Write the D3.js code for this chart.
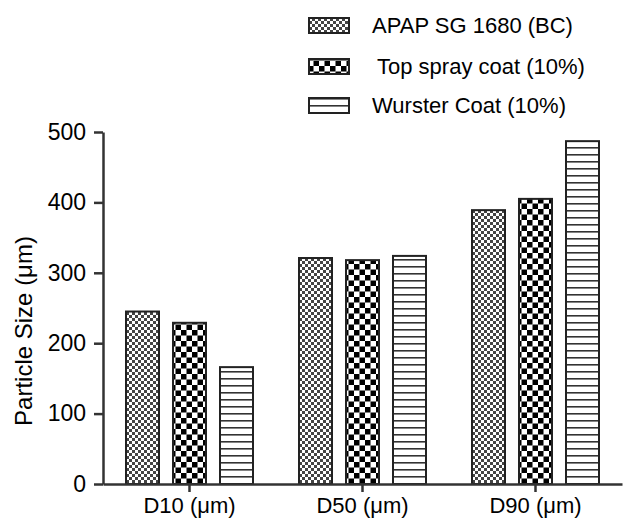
<!DOCTYPE html>
<html>
<head>
<meta charset="utf-8">
<script src="https://cdn.jsdelivr.net/npm/d3@7"></script>
<style>
body { margin: 0; background: #fff; }
text { font-family: "Liberation Sans", Arial, sans-serif; fill: #000; }
</style>
</head>
<body>
<div id="chart"></div>
<script>
// data
var categories = ["D10 (μm)", "D50 (μm)", "D90 (μm)"]
var series = ["APAP SG 1680 (BC)", "Top spray coat (10%)", "Wurster Coat (10%)"]
var apapValues = [245, 321, 389]
var topSprayValues = [229, 318, 405]
var wursterValues = [166, 324, 487]
var yTicks = [0, 100, 200, 300, 400, 500]
var allValues = [apapValues, topSprayValues, wursterValues]

var width = 624, height = 522
var svg = d3.select("#chart").append("svg")
    .attr("width", width)
    .attr("height", height)

// patterns for the three fills
var defs = svg.append("defs")
// fine grey checker
var p1 = defs.append("pattern").attr("id", "pat0").attr("patternUnits", "userSpaceOnUse")
    .attr("width", 6).attr("height", 6)
p1.append("rect").attr("width", 6).attr("height", 6).attr("fill", "#fff")
p1.append("rect").attr("width", 3).attr("height", 3).attr("fill", "#444")
p1.append("rect").attr("x", 3).attr("y", 3).attr("width", 3).attr("height", 3).attr("fill", "#444")
// big black checker
var p2 = defs.append("pattern").attr("id", "pat1").attr("patternUnits", "userSpaceOnUse")
    .attr("width", 11).attr("height", 11)
p2.append("rect").attr("width", 11).attr("height", 11).attr("fill", "#fff")
p2.append("rect").attr("width", 5.5).attr("height", 5.5).attr("fill", "#000")
p2.append("rect").attr("x", 5.5).attr("y", 5.5).attr("width", 5.5).attr("height", 5.5).attr("fill", "#000")
// horizontal stripes
var p3 = defs.append("pattern").attr("id", "pat2").attr("patternUnits", "userSpaceOnUse")
    .attr("width", 10).attr("height", 7)
p3.append("rect").attr("width", 10).attr("height", 7).attr("fill", "#fff")
p3.append("rect").attr("y", 0).attr("width", 10).attr("height", 1.6).attr("fill", "#333")

// scales
var x0 = d3.scaleBand().domain(categories).range([103, 622]).padding(0)
var x1 = d3.scaleBand().domain(series).range([0, 127]).paddingInner(14 / 47).paddingOuter(0)
var y = d3.scaleLinear().domain([0, 500]).range([484, 132])

// bars
var groups = svg.selectAll(".group")
    .data(categories)
    .enter().append("g")
    .attr("class", "group")
    .attr("transform", function(d) { return "translate(" + (x0(d) + x0.bandwidth() / 2 - 63.5) + ",0)" })

groups.selectAll("rect")
    .data(function(d, i) { return series.map(function(s, j) { return {s: s, j: j, v: allValues[j][i]} }) })
    .enter().append("rect")
    .attr("x", function(d) { return x1(d.s) })
    .attr("y", function(d) { return y(d.v) })
    .attr("width", x1.bandwidth())
    .attr("height", function(d) { return y(0) - y(d.v) })
    .attr("fill", function(d) { return "url(#pat" + d.j + ")" })
    .attr("stroke", "#222")
    .attr("stroke-width", 2)

// y axis
var yAxis = svg.append("g")
    .attr("transform", "translate(103,0)")
    .call(d3.axisLeft(y).tickValues(yTicks).tickSize(9).tickSizeOuter(0).tickPadding(8))
yAxis.selectAll("path, line").attr("stroke", "#333").attr("stroke-width", 2.5)
yAxis.selectAll("text").style("font-size", "23px").attr("font-family", null).attr("fill", null)

// x axis
var xAxis = svg.append("g")
    .attr("transform", "translate(0,484)")
    .call(d3.axisBottom(x0).tickSize(8).tickSizeOuter(0).tickPadding(5))
xAxis.selectAll("path, line").attr("stroke", "#333").attr("stroke-width", 2.5)
xAxis.selectAll("text").style("font-size", "22px").attr("font-family", null).attr("fill", null)

// y title
svg.append("text")
    .attr("transform", "translate(32,331) rotate(-90)")
    .attr("text-anchor", "middle")
    .style("font-size", "24px")
    .text("Particle Size (μm)")

// legend
var legendY = [25.5, 66.5, 105.5]
var legendTextX = [372, 377, 372]
var legend = svg.selectAll(".legend")
    .data(series)
    .enter().append("g")
    .attr("class", "legend")
legend.append("rect")
    .attr("x", 309)
    .attr("y", function(d, i) { return legendY[i] - 7.5 })
    .attr("width", 40)
    .attr("height", 15)
    .attr("fill", function(d, i) { return "url(#pat" + i + ")" })
    .attr("stroke", "#222")
    .attr("stroke-width", 2)
legend.append("text")
    .attr("x", function(d, i) { return legendTextX[i] })
    .attr("y", function(d, i) { return legendY[i] })
    .attr("dy", "0.36em")
    .style("font-size", "22px")
    .text(function(d) { return d })
</script>
</body>
</html>
